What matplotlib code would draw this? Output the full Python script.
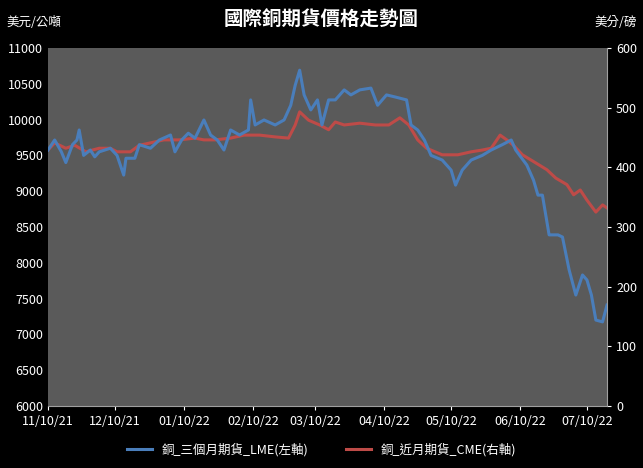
import matplotlib
matplotlib.use("Agg")
import matplotlib.pyplot as plt
import matplotlib.dates as mdates
import numpy as np
import datetime as dt

plt.rcParams['font.family'] = ['Noto Sans CJK TC', 'DejaVu Sans']

start = dt.date(2021, 11, 10)
lme_days = [0,3,6,8,11,13,14,16,19,21,23,28,31,34,35,39,41,46,50,55,57,60,63,66,70,73,76,79,82,86,90,91,93,97,102,106,109,111,113,115,118,121,123,126,129,133,136,140,145,148,152,156,161,163,166,169,172,177,181,183,186,190,195,199,204,208,210,215,218,220,222,225,229,231,234,237,240,242,244,246,249,251]
lme_vals = [9575,9715,9550,9400,9650,9715,9855,9500,9575,9480,9550,9600,9500,9225,9460,9460,9650,9600,9715,9785,9550,9715,9810,9740,9995,9785,9715,9575,9855,9785,9855,10275,9925,9995,9925,9995,10200,10480,10690,10345,10135,10275,9925,10275,10275,10415,10345,10415,10440,10200,10345,10315,10275,9925,9855,9715,9500,9435,9295,9085,9295,9435,9500,9575,9650,9715,9575,9365,9155,8945,8945,8390,8390,8360,7900,7550,7830,7760,7550,7200,7175,7410,7270][:82]
cme_days = [0,3,8,12,17,23,28,31,37,41,46,52,59,66,70,75,82,88,95,102,108,111,113,117,122,126,129,133,140,147,153,158,162,166,170,177,184,190,195,199,203,206,209,213,217,224,228,233,236,239,242,246,249,251]
cme_vals = [429,441,432,437,426,432,432,426,426,437,441,446,446,449,446,446,449,454,454,451,449,471,493,479,471,463,476,471,474,471,471,483,471,446,432,421,421,426,429,432,454,446,437,421,412,396,382,371,354,362,345,325,337,332]

lme_dates = [start + dt.timedelta(days=d) for d in lme_days]
lme_vals = lme_vals[:len(lme_dates)]
cme_dates = [start + dt.timedelta(days=d) for d in cme_days]

fig = plt.figure(figsize=(6.43, 4.68), dpi=100, facecolor='black')
ax = fig.add_axes([48/643, 62/468, 559/643, 358/468])
ax.set_facecolor('#5a5a5a')
ax2 = ax.twinx()
l1, = ax.plot(lme_dates, lme_vals, color='#4a7ebb', lw=2.2, label='銅_三個月期貨_LME(左軸)')
l2, = ax2.plot(cme_dates, cme_vals, color='#be4b48', lw=2.2, label='銅_近月期貨_CME(右軸)')
ax.set_zorder(ax2.get_zorder()+1); ax.patch.set_visible(False)
ax2.patch.set_visible(True); ax2.patch.set_facecolor('#5a5a5a')
# keep blue on top of red
ax.set_zorder(2); ax2.set_zorder(1)

ax.set_xlim(start, start + dt.timedelta(days=251))
ax.set_ylim(6000, 11000)
ax2.set_ylim(0, 600)
ax.set_yticks(range(6000, 11001, 500))
ax2.set_yticks(range(0, 601, 100))
ticks = [dt.date(2021, 11, 10), dt.date(2021, 12, 10)] + [dt.date(2022, m, 10) for m in range(1, 8)]
ax.set_xticks(ticks)
ax.xaxis.set_major_formatter(mdates.DateFormatter('%m/%d/%y'))
for a in (ax, ax2):
    a.tick_params(colors='white', labelsize=9, length=3)
    for s in a.spines.values():
        s.set_visible(False)
ax.spines['bottom'].set_visible(True); ax.spines['bottom'].set_color('#a0a0a0')
ax2.spines['right'].set_visible(True); ax2.spines['right'].set_color('#a0a0a0')
ax.tick_params(axis='y', length=0)
fig.text(0.5, 0.945, '國際銅期貨價格走勢圖', color='white', fontsize=14, fontweight='bold', ha='center')
fig.text(6/643, 0.945, '美元/公噸', color='white', fontsize=9, ha='left')
fig.text(637/643, 0.945, '美分/磅', color='white', fontsize=9, ha='right')
leg = fig.legend(handles=[l1, l2], loc='lower center', bbox_to_anchor=(0.5, 0.0), ncol=2,
                 frameon=False, fontsize=9, labelcolor='white', columnspacing=3, handlelength=2)
fig.savefig('out.png', dpi=100, facecolor='black')
